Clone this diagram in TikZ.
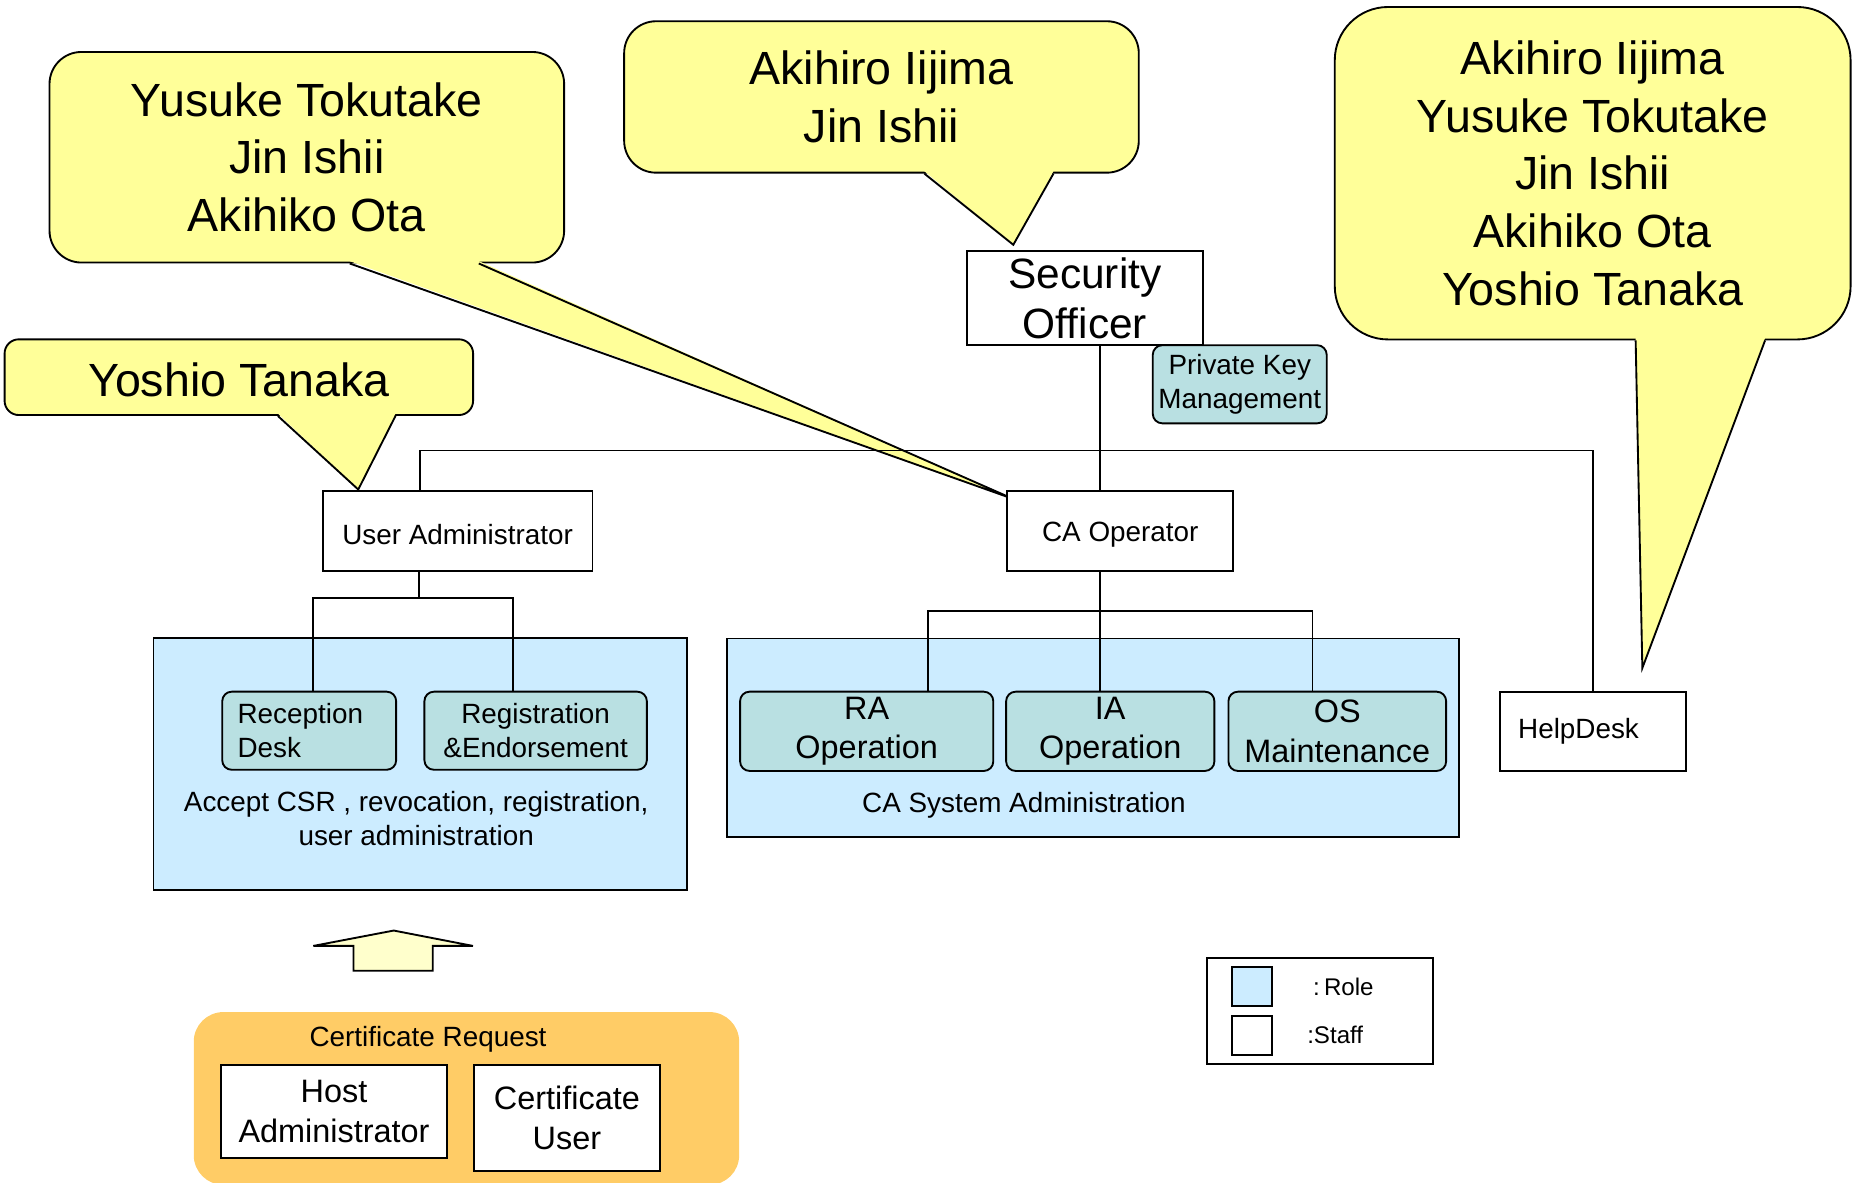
\documentclass[tikz,border=0pt]{standalone}
\usepackage{fontspec}
\setmainfont{Liberation Sans}
\usepackage{tikz}
\usetikzlibrary{calc,positioning}

\definecolor{calloutyellow}{HTML}{FFFF99}
\definecolor{areablue}{HTML}{CCECFF}
\definecolor{roleteal}{HTML}{B9E0E2}
\definecolor{reqorange}{HTML}{FFCC66}
\definecolor{arrowyellow}{HTML}{FFFFCC}

\newcommand{\calloutfont}{\fontsize{11.2}{13.9}\selectfont}
\newcommand{\officerfont}{\fontsize{10.2}{12}\selectfont}
\newcommand{\opfont}{\fontsize{7.8}{9.5}\selectfont}
\newcommand{\stafffont}{\fontsize{6.7}{8.2}\selectfont}
\newcommand{\keyfont}{\fontsize{5.8}{7}\selectfont}

% tail of a speech bubble: node name, tip coordinate
\newcommand{\callouttail}[2]{%
  \fill[calloutyellow] ($(#1.south west)!0.583!(#1.south east)+(0,-2)$) -- (#2)
    -- ($(#1.south west)!0.833!(#1.south east)+(0,-2)$) -- cycle;
  \draw ($(#1.south west)!0.583!(#1.south east)$) -- (#2)
    -- ($(#1.south west)!0.833!(#1.south east)$);
}

\begin{document}
\begin{tikzpicture}[x=0.01cm,y=-0.01cm,line width=0.45pt,
    callout/.style={draw,fill=calloutyellow,rounded corners=2.7mm,align=center,inner sep=0pt,font=\calloutfont},
    staff/.style={draw,fill=white,align=center,inner sep=0pt,font=\stafffont},
    role/.style={draw,fill=roleteal,rounded corners=0.8mm,align=center,inner sep=0pt,font=\stafffont},
    area/.style={draw,fill=areablue,inner sep=0pt},
    keytext/.style={inner sep=0pt,font=\keyfont}]
  \useasboundingbox (0,0) rectangle (1568,1000);

  % name bubbles
  \node[callout,minimum width=4.35cm,minimum height=1.78cm] (nameA) at (259.5,133) {Yusuke Tokutake\\Jin Ishii\\Akihiko Ota};
  \node[callout,minimum width=4.35cm,minimum height=1.28cm] (nameB) at (745.5,82) {Akihiro Iijima\\Jin Ishii};
  \node[callout,rounded corners=4.5mm,minimum width=4.36cm,minimum height=2.81cm] (nameC) at (1347,146.5) {Akihiro Iijima\\Yusuke Tokutake\\Jin Ishii\\Akihiko Ota\\Yoshio Tanaka};
  \node[callout,rounded corners=1.2mm,minimum width=3.96cm,minimum height=0.64cm,text height=9.5pt] (nameD) at (202,319) {Yoshio Tanaka};

  \coordinate (tipA) at (857,422);
  \coordinate (tipB) at (857,207);
  \coordinate (tipC) at (1389,565);
  \coordinate (tipD) at (303,414);
  \callouttail{nameA}{tipA}
  \callouttail{nameB}{tipB}
  \callouttail{nameC}{tipC}
  \callouttail{nameD}{tipD}

  % staff
  \node[staff,font=\officerfont,minimum width=1.99cm,minimum height=0.80cm] (secoff) at (917.5,252) {Security\\Officer};
  \node[role,minimum width=1.47cm,minimum height=0.66cm] (pkm) at (1048.5,325) {Private Key\\Management};
  \node[staff,minimum width=2.28cm,minimum height=0.68cm,text height=6.5pt] (useradm) at (387,449) {User Administrator};
  \node[staff,minimum width=1.91cm,minimum height=0.68cm,text height=6.5pt] (caop) at (947.5,449) {CA Operator};
  \node[staff,align=left,text width=1.27cm,inner xsep=1.5mm,minimum height=0.67cm] (helpdesk) at (1347.5,618.5) {HelpDesk};

  % roles
  \node[area,minimum width=4.51cm,minimum height=2.13cm] (raarea) at (355.5,646.5) {};
  \node[area,minimum width=6.19cm,minimum height=1.68cm] (caarea) at (924.5,624) {};
  \node[role,align=left,text width=1.21cm,inner xsep=1.3mm,minimum height=0.66cm] (reception) at (261.5,618) {Reception\\Desk};
  \node[role,minimum width=1.88cm,minimum height=0.66cm] (regend) at (453,618) {Registration\\\&Endorsement};
  \node[font=\stafffont,align=center,inner sep=0pt] (raduty) at (352,692) {Accept CSR , revocation, registration,\\user administration};
  \node[role,font=\opfont,minimum width=2.14cm,minimum height=0.67cm] (raop) at (733,618.5) {RA\\Operation};
  \node[role,font=\opfont,minimum width=1.76cm,minimum height=0.67cm] (iaop) at (939,618.5) {IA\\Operation};
  \node[role,font=\opfont,minimum width=1.84cm,minimum height=0.67cm] (osmaint) at (1131,618.5) {OS\\Maintenance};
  \node[font=\stafffont,inner sep=0pt] (casys) at (866,681) {CA System Administration};

  % connectors
  \coordinate (bus) at (930,381);
  \coordinate (uajoin) at (354,506);
  \coordinate (cajoin) at (930,517);
  \draw (secoff.south -| bus) -- (caop.north -| bus);
  \draw ([xshift=-3.2mm]useradm.north) |- (bus) -| (helpdesk.north);
  \draw (uajoin |- useradm.south) -- (uajoin);
  \draw ([xshift=0.35mm]reception.north) |- (uajoin) -| ([xshift=-1.9mm]regend.north);
  \draw (caop.south -| bus) -- (iaop.north -| bus);
  \draw ([xshift=5.2mm]raop.north) |- (cajoin) -| ([xshift=-2.1mm]osmaint.north);

  % certificate request
  \coordinate (reqarrow) at (332.5,821);
  \draw[fill=arrowyellow] (reqarrow) ++(-33.5,0) -- ++(0,-21) -- ++(-34,0) -- ++(68,-13)
    -- ++(67,13) -- ++(-34,0) -- ++(0,21) -- cycle;
  \node[fill=reqorange,rounded corners=2.5mm,minimum width=4.61cm,minimum height=1.46cm] (reqarea) at (394.5,929) {};
  \node[font=\stafffont,inner sep=0pt] (reqlabel) at (362,879) {Certificate Request};
  \node[staff,font=\opfont,minimum width=1.91cm,minimum height=0.78cm] (hostadm) at (282.5,940) {Host\\Administrator};
  \node[staff,font=\opfont,minimum width=1.57cm,minimum height=0.89cm] (certuser) at (479.5,945.5) {Certificate\\User};

  % legend
  \node[staff,minimum width=1.91cm,minimum height=0.90cm] (legend) at (1116.5,855) {};
  \node[area,minimum width=0.34cm,minimum height=0.33cm] (keyrole) at (1059,834.5) {};
  \node[staff,minimum width=0.34cm,minimum height=0.33cm] (keystaff) at (1059,875.5) {};
  \node[keytext,right=3.3mm of keyrole] (rolelabel) {:\kern1pt Role};
  \node[keytext,right=2.8mm of keystaff] (stafflabel) {:Staff};
\end{tikzpicture}
\end{document}
